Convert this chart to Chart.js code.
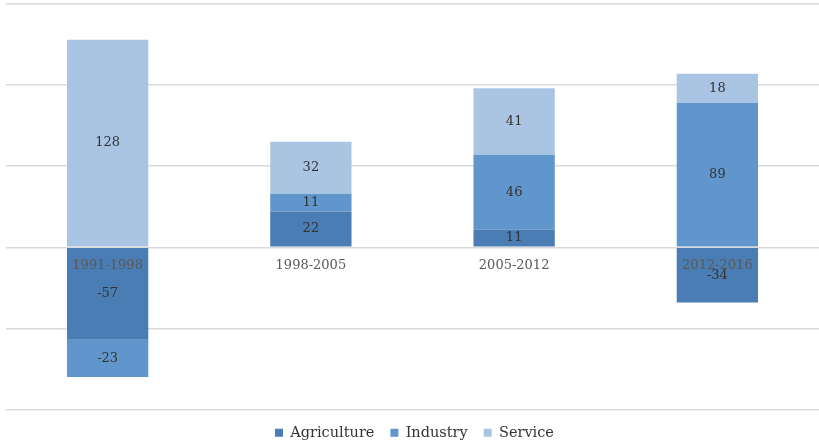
<!DOCTYPE html>
<html>
<head>
<meta charset="utf-8">
<script src="https://cdn.jsdelivr.net/npm/chart.js@4/dist/chart.umd.min.js"></script>
<style>
  html, body { margin: 0; padding: 0; background: #fff; }
  #wrap { width: 819px; height: 442px; position: relative; }
</style>
</head>
<body>
<div id="wrap"><canvas id="chart"></canvas></div>
<script>
const periods = ['1991-1998', '1998-2005', '2005-2012', '2012-2016'];
const agriculture = [-57, 22, 11, -34];
const industry = [-23, 11, 46, 89];
const service = [128, 32, 41, 18];

const serif = '"DejaVu Serif", serif';

// value inside each segment, period name sitting on the zero line
const segmentLabels = {
  id: 'segmentLabels',
  afterDatasetsDraw(chart) {
    const ctx = chart.ctx;
    ctx.save();
    ctx.textAlign = 'center';
    ctx.textBaseline = 'middle';
    ctx.font = '13px ' + serif;
    ctx.fillStyle = '#333333';
    chart.data.datasets.forEach((ds, di) => {
      const meta = chart.getDatasetMeta(di);
      meta.data.forEach((bar, i) => {
        const v = ds.data[i];
        if (!v) return;
        const mid = (bar.y + bar.base) / 2;
        ctx.fillText(String(v), bar.x, mid);
      });
    });
    const x = chart.scales.x;
    const zero = chart.scales.y.getPixelForValue(0);
    ctx.fillStyle = '#595959';
    periods.forEach((p, i) => {
      ctx.fillText(p, x.getPixelForValue(i), zero + 18);
    });
    ctx.restore();
  }
};

new Chart(document.getElementById('chart'), {
  type: 'bar',
  data: {
    labels: periods,
    datasets: [
      { label: 'Agriculture', data: agriculture, backgroundColor: '#4a7db3' },
      { label: 'Industry', data: industry, backgroundColor: '#6096cb' },
      { label: 'Service', data: service, backgroundColor: '#aac4e4' }
    ]
  },
  options: {
    responsive: true,
    maintainAspectRatio: false,
    animation: false,
    layout: { padding: { top: 4, left: 6, right: -4, bottom: -8 } },
    datasets: { bar: { categoryPercentage: 1, barPercentage: 0.4 } },
    plugins: {
      tooltip: { enabled: false },
      legend: {
        position: 'bottom',
        labels: {
          boxWidth: 8,
          boxHeight: 8,
          padding: 16,
          color: '#333333',
          font: { family: serif, size: 14.5 }
        }
      }
    },
    scales: {
      x: {
        stacked: true,
        display: false
      },
      y: {
        stacked: true,
        min: -100,
        max: 150,
        ticks: { display: false, stepSize: 50 },
        border: { display: false },
        grid: { color: '#d9d9d9', lineWidth: 1.5, drawTicks: false }
      }
    }
  },
  plugins: [segmentLabels]
});
</script>
</body>
</html>
